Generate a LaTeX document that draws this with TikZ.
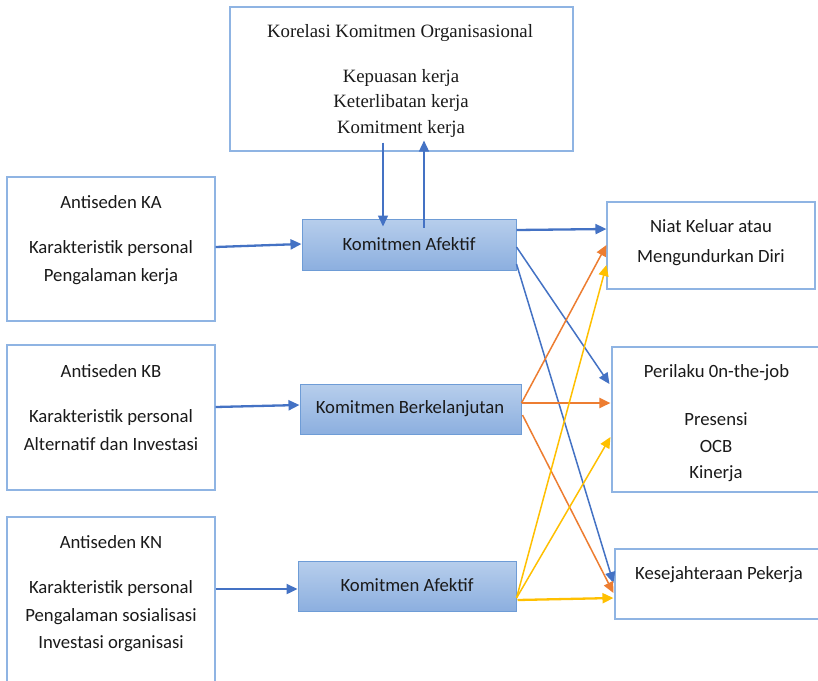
\documentclass[tikz,border=0pt]{standalone}
\usepackage{fontspec}
\setmainfont{Carlito}
\newfontfamily\serifface{Liberation Serif}
\usetikzlibrary{arrows.meta,calc}

\definecolor{boxline}{HTML}{8FB4E3}
\definecolor{fillTop}{HTML}{B7CEEC}
\definecolor{fillBot}{HTML}{8CAFDF}
\definecolor{boxedge}{HTML}{6E9CD6}
\definecolor{blueLine}{HTML}{4472C4}
\definecolor{orangeLine}{HTML}{ED7D31}
\definecolor{yellowLine}{HTML}{FFC000}
\definecolor{ink}{HTML}{1A1A1A}

\tikzset{
  panel/.style={draw=boxline, line width=1.1pt, fill=white, inner sep=0pt},
  core/.style={draw=boxedge, line width=1pt, top color=fillTop, bottom color=fillBot, inner sep=0pt},
  txt/.style={anchor=base, inner sep=0pt, text=ink, font=\fontsize{18.7}{22}\selectfont},
  serif/.style={anchor=base, inner sep=0pt, text=ink, font=\serifface\fontsize{18.8}{22}\selectfont},
  tip/.style={-{Triangle[length=11pt,width=10pt]}},
  thick link/.style={tip, line width=2.3pt},
  thin link/.style={tip, line width=1.5pt},
}

\begin{document}
\begin{tikzpicture}[x=1pt, y=-1pt]
\clip (0,0) rectangle (818,680);
\fill[white] (0,0) rectangle (818,680);

% outer boxes
\node[panel, minimum width=343pt, minimum height=144pt] (top) at (401.5,79) {};
\node[panel, minimum width=208pt, minimum height=144pt] (ka) at (111,249) {};
\node[panel, minimum width=208pt, minimum height=145pt] (kb) at (111,417.5) {};
\node[panel, minimum width=208pt, minimum height=173pt] (kn) at (111,603.5) {};
\node[panel, minimum width=208pt, minimum height=87pt] (niat) at (711,245.5) {};
\node[panel, minimum width=218pt, minimum height=145pt] (perilaku) at (721,419.5) {};
\node[panel, minimum width=215pt, minimum height=70pt] (sejahtera) at (722.5,584) {};

% commitment boxes
\node[core, minimum width=214pt, minimum height=51pt] (afA) at (409,244.5) {};
\node[core, minimum width=221pt, minimum height=50pt] (lanjut) at (410.5,409) {};
\node[core, minimum width=218pt, minimum height=50pt] (afB) at (407,586) {};

% texts
\node[serif] (t0) at (400,37) {Korelasi Komitmen Organisasional};
\node[serif] (t1) at (401,82) {Kepuasan kerja};
\node[serif] (t2) at (401,107.5) {Keterlibatan kerja};
\node[serif] (t3) at (401,133) {Komitment kerja};

\node[txt] (ka0) at (111,208) {Antiseden KA};
\node[txt] (ka1) at (111,253) {Karakteristik personal};
\node[txt] (ka2) at (111,281) {Pengalaman kerja};

\node[txt] (kb0) at (111,377) {Antiseden KB};
\node[txt] (kb1) at (111,422) {Karakteristik personal};
\node[txt] (kb2) at (111,450) {Alternatif dan Investasi};

\node[txt] (kn0) at (111,548) {Antiseden KN};
\node[txt] (kn1) at (111,593) {Karakteristik personal};
\node[txt] (kn2) at (111,621) {Pengalaman sosialisasi};
\node[txt] (kn3) at (111,648) {Investasi organisasi};

\node[txt] (afAt) at (409,250) {Komitmen Afektif};
\node[txt] (lanjutt) at (410,413) {Komitmen Berkelanjutan};
\node[txt] (afBt) at (407,591) {Komitmen Afektif};

\node[txt] (n0) at (711,232) {Niat Keluar atau};
\node[txt] (n1) at (711,262) {Mengundurkan Diri};

\node[txt] (p0) at (716.5,377) {Perilaku 0n-the-job};
\node[txt] (p1) at (716,425) {Presensi};
\node[txt] (p2) at (716,452) {OCB};
\node[txt] (p3) at (716,478) {Kinerja};

\node[txt] (s0) at (719,579) {Kesejahteraan Pekerja};

% links with the correlates box
\draw[thin link, blueLine] ($(top.south)+(-18.5,-9)$) -- ($(afA.north)+(-26,8)$);
\draw[thin link, blueLine] ($(afA.north)+(15,9)$) -- ($(top.south)+(22.5,-11)$);

% antecedents
\draw[thick link, blueLine] ($(ka.east)+(0,-2)$) -- ($(afA.west)+(0,-0.5)$);
\draw[thick link, blueLine] ($(kb.east)+(0,-10.5)$) -- ($(lanjut.west)+(0,-4)$);
\draw[thick link, blueLine] ($(kn.east)+(0,-14.5)$) -- ($(afB.west)+(0,3)$);

% affective commitment outcomes
\draw[thick link, blueLine] ($(afA.east)+(0,-14.5)$) -- ($(niat.west)+(0,-16.5)$);
\draw[thin link, blueLine] ($(afA.east)+(0,2.5)$) -- ($(perilaku.west)+(-2,-35.5)$);
\draw[thin link, blueLine] ($(afA.east)+(0,19.5)$) -- ($(sejahtera.west)+(-1,-1)$);

% continuance commitment outcomes
\draw[thin link, orangeLine] ($(lanjut.east)+(0,-6)$) -- ($(niat.west)+(0,-0.5)$);
\draw[thick link, orangeLine] ($(lanjut.east)+(0,-6)$) -- ($(perilaku.west)+(-1,-16.5)$);
\draw[thin link, orangeLine] ($(lanjut.east)+(1,6)$) -- ($(sejahtera.west)+(-1,9)$);

% second affective commitment outcomes
\draw[thin link, yellowLine] ($(afB.east)+(0,12)$) -- ($(niat.west)+(0,19.5)$);
\draw[thin link, yellowLine] ($(afB.east)+(0,12)$) -- ($(perilaku.west)+(-1,17.5)$);
\draw[thick link, yellowLine] ($(afB.east)+(1,14)$) -- ($(sejahtera.west)+(-1,14)$);
\end{tikzpicture}
\end{document}
